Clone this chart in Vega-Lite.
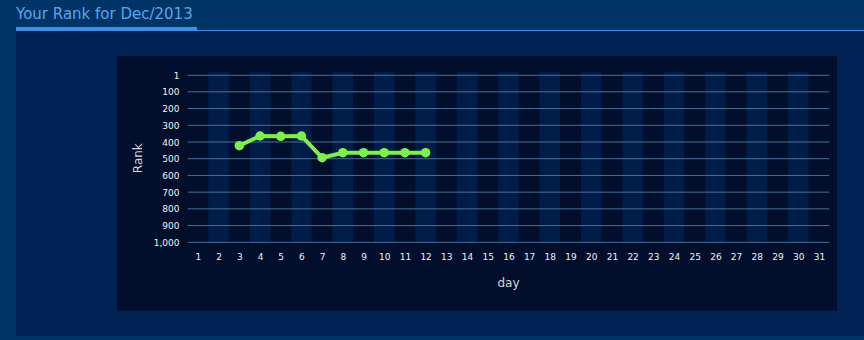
{
  "$schema": "https://vega.github.io/schema/vega-lite/v6.json",
  "width": 848,
  "height": 305,
  "autosize": {"type": "none"},
  "padding": {"left": 16, "top": 31, "right": 0, "bottom": 4},
  "background": "#003466",
  "view": {"fill": "#002255", "stroke": null},
  "title": {
    "text": "Your Rank for Dec/2013",
    "anchor": "start",
    "frame": "group",
    "font": "DejaVu Sans",
    "fontSize": 15,
    "fontWeight": "normal",
    "color": "#5aa6ec",
    "baseline": "alphabetic",
    "offset": -7
  },
  "config": {
    "axis": {"zindex": 2, "grid": false, "domain": false, "ticks": false, "tickSize": 0, "labelFont": "DejaVu Sans", "labelFontSize": 9, "labelColor": "#f2f2f2", "titleFont": "DejaVu Sans", "titleFontSize": 12, "titleFontWeight": "normal", "titleColor": "#d6d6d6", "labelFlush": false, "labelOverlap": false, "labelBound": false}
  },
  "datasets": {
    "one": [{"k": 1}],
    "bands": [{"day": 2}, {"day": 4}, {"day": 6}, {"day": 8}, {"day": 10}, {"day": 12}, {"day": 14}, {"day": 16}, {"day": 18}, {"day": 20}, {"day": 22}, {"day": 24}, {"day": 26}, {"day": 28}, {"day": 30}],
    "grid": [{"r": 1}, {"r": 100}, {"r": 200}, {"r": 300}, {"r": 400}, {"r": 500}, {"r": 600}, {"r": 700}, {"r": 800}, {"r": 900}, {"r": 1000}],
    "rank": [
      {"day": 3, "rank": 422},
      {"day": 4, "rank": 364},
      {"day": 5, "rank": 366},
      {"day": 6, "rank": 364},
      {"day": 7, "rank": 494},
      {"day": 8, "rank": 464},
      {"day": 9, "rank": 464},
      {"day": 10, "rank": 464},
      {"day": 11, "rank": 464},
      {"day": 12, "rank": 464}
    ]
  },
  "layer": [
    {
      "data": {"name": "one"},
      "mark": {"type": "rect", "color": "#010e2c"},
      "encoding": {
        "x": {"datum": -2.91, "type": "quantitative", "scale": {"domain": [-7.79, 33.18], "nice": false, "zero": false, "padding": 0}, "axis": {"zindex": 2, "tickCount": 100}},
        "x2": {"datum": 31.876},
        "y": {"datum": -114.4, "type": "quantitative", "scale": {"domain": [-264, 1560.5], "reverse": true, "nice": false, "zero": false, "padding": 0}, "axis": {"zindex": 2, "tickCount": 100}},
        "y2": {"datum": 1409.2}
      }
    },
    {
      "data": {"name": "bands"},
      "mark": {"type": "bar", "color": "#001c48", "width": 20.7},
      "encoding": {
        "x": {"field": "day", "type": "quantitative", "scale": {"domain": [-7.79, 33.18], "nice": false, "zero": false, "padding": 0},
          "axis": {"zindex": 2, "tickCount": 100, "orient": "bottom", "offset": -94, "values": [1,2,3,4,5,6,7,8,9,10,11,12,13,14,15,16,17,18,19,20,21,22,23,24,25,26,27,28,29,30,31], "format": "d", "labelPadding": 10, "labelBaseline": "top", "title": "day", "titleX": 492, "titleY": 44.7, "titleBaseline": "alphabetic", "titleAlign": "center"}},
        "y": {"datum": -20, "type": "quantitative", "scale": {"domain": [-264, 1560.5], "reverse": true, "nice": false, "zero": false, "padding": 0}},
        "y2": {"datum": 1000}
      }
    },
    {
      "data": {"name": "grid"},
      "mark": {"type": "rule", "color": "#4a7099", "strokeWidth": 1},
      "encoding": {
        "y": {"field": "r", "type": "quantitative", "scale": {"domain": [-264, 1560.5], "reverse": true, "nice": false, "zero": false, "padding": 0},
          "axis": {"zindex": 2, "tickCount": 100, "orient": "left", "offset": -167, "values": [1,100,200,300,400,500,600,700,800,900,1000], "format": ",d", "labelPadding": 4, "labelBaseline": "middle", "title": "Rank", "titleX": -42, "titleY": 126.7, "titleAngle": 270, "titleBaseline": "alphabetic", "titleAlign": "center"}},
        "x": {"datum": 0.5, "type": "quantitative", "scale": {"domain": [-7.79, 33.18], "nice": false, "zero": false, "padding": 0}},
        "x2": {"datum": 31.5}
      }
    },
    {
      "data": {"name": "rank"},
      "mark": {"type": "line", "color": "#7df04c", "strokeWidth": 4, "point": {"filled": true, "size": 90, "color": "#7df04c", "opacity": 1}},
      "encoding": {
        "x": {"field": "day", "type": "quantitative", "title": "day", "scale": {"domain": [-7.79, 33.18], "nice": false, "zero": false, "padding": 0}, "axis": {"zindex": 2, "tickCount": 100}},
        "y": {"field": "rank", "type": "quantitative", "title": "Rank", "scale": {"domain": [-264, 1560.5], "reverse": true, "nice": false, "zero": false, "padding": 0}, "axis": {"zindex": 2, "tickCount": 100}}
      }
    },
    {
      "data": {"name": "one"},
      "mark": {"type": "rule", "color": "#3a8fe8", "strokeWidth": 4},
      "encoding": {
        "x": {"datum": -7.79, "type": "quantitative", "scale": {"domain": [-7.79, 33.18], "nice": false, "zero": false, "padding": 0}},
        "x2": {"datum": 0.955},
        "y": {"datum": -275.96, "type": "quantitative", "scale": {"domain": [-264, 1560.5], "reverse": true, "nice": false, "zero": false, "padding": 0}}
      }
    },
    {
      "data": {"name": "one"},
      "mark": {"type": "rule", "color": "#3a8fe8", "strokeWidth": 1},
      "encoding": {
        "x": {"datum": 0.955, "type": "quantitative", "scale": {"domain": [-7.79, 33.18], "nice": false, "zero": false, "padding": 0}},
        "x2": {"datum": 33.18},
        "y": {"datum": -267, "type": "quantitative", "scale": {"domain": [-264, 1560.5], "reverse": true, "nice": false, "zero": false, "padding": 0}}
      }
    }
  ]
}
